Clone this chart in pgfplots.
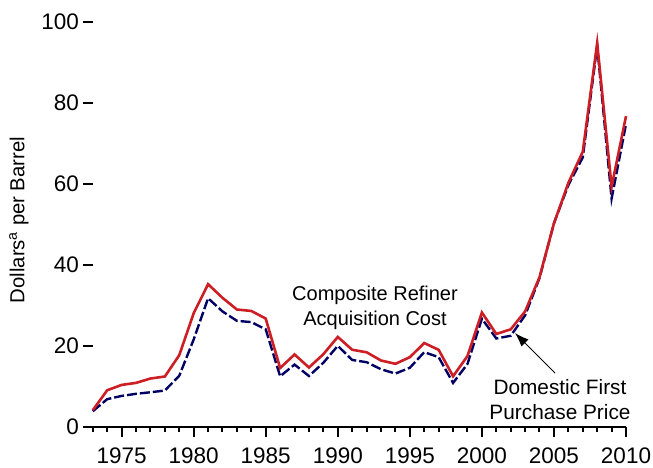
\documentclass[border=0pt]{standalone}
\usepackage{pgfplots}
\pgfplotsset{compat=1.18}
\usepackage{pgfplotstable}
\usetikzlibrary{arrows.meta}
\usepackage{fontspec}
\setmainfont{Liberation Sans}
\definecolor{redline}{RGB}{204,30,36}
\definecolor{navyline}{RGB}{0,0,100}

\pgfplotstableread{
year price
1973 3.89
1974 6.87
1975 7.67
1976 8.19
1977 8.57
1978 9.00
1979 12.64
1980 21.59
1981 31.77
1982 28.52
1983 26.19
1984 25.88
1985 24.09
1986 12.51
1987 15.40
1988 12.58
1989 15.86
1990 20.03
1991 16.54
1992 15.99
1993 14.25
1994 13.19
1995 14.62
1996 18.46
1997 17.23
1998 10.87
1999 15.56
2000 26.72
2001 21.84
2002 22.51
2003 27.56
2004 36.77
2005 50.28
2006 59.69
2007 66.52
2008 94.04
2009 56.35
2010 74.71
}\domestic

\pgfplotstableread{
year price
1973 4.15
1974 9.07
1975 10.38
1976 10.89
1977 11.96
1978 12.46
1979 17.72
1980 28.07
1981 35.24
1982 31.87
1983 28.99
1984 28.63
1985 26.75
1986 14.55
1987 17.90
1988 14.67
1989 17.97
1990 22.22
1991 19.06
1992 18.43
1993 16.41
1994 15.59
1995 17.23
1996 20.71
1997 19.04
1998 12.52
1999 17.51
2000 28.26
2001 22.95
2002 24.10
2003 28.53
2004 36.98
2005 50.24
2006 60.24
2007 67.94
2008 94.74
2009 59.29
2010 76.69
}\composite

\begin{document}
\begin{tikzpicture}
\useasboundingbox (0,0) rectangle (653pt,467pt);
\begin{axis}[
  at={(83pt,40pt)}, anchor=south west,
  scale only axis, width=543pt, height=405.3pt,
  xmin=1972.32, xmax=2010, ymin=0, ymax=100,
  axis x line*=bottom, axis y line*=left,
  x axis line style={-, line width=2pt},
  y axis line style={draw=none},
  xtick={1975,1980,...,2010},
  minor xtick={1973,...,2009},
  ytick={0,20,...,100},
  tick align=outside,
  major tick length=10pt, minor tick length=5pt,
  every tick/.style={black, line width=2pt},
  major y tick style={xshift=10pt},
  /pgf/number format/1000 sep={},
  /pgf/number format/assume math mode=true,
  tick label style={font=\fontsize{22.5}{26}\selectfont},
  xticklabel style={anchor=north, inner sep=0pt, text depth=0pt, yshift=-11pt},
  yticklabel style={anchor=east, inner sep=0pt, xshift=6pt},
  clip=false,
]
\addplot[navyline, line width=2.4pt, dash pattern=on 10pt off 3pt] table[x=year, y=price] {\domestic};
\addplot[redline, line width=2.6pt] table[x=year, y=price] {\composite};
\end{axis}
\node[rotate=90, font=\fontsize{20.3}{24}\selectfont] at (19pt,247pt) {Dollars\textsuperscript{a} per Barrel};
\node[align=center, font=\fontsize{20}{25}\selectfont] at (375pt,159pt) {Composite Refiner\\Acquisition Cost};
\node[align=center, font=\fontsize{20.8}{25}\selectfont] at (560pt,67pt) {Domestic First\\Purchase Price};
\draw[-{Latex[length=14pt,width=10pt]}, line width=1pt] (555pt,94pt) -- (515pt,134pt);
\end{tikzpicture}
\end{document}
